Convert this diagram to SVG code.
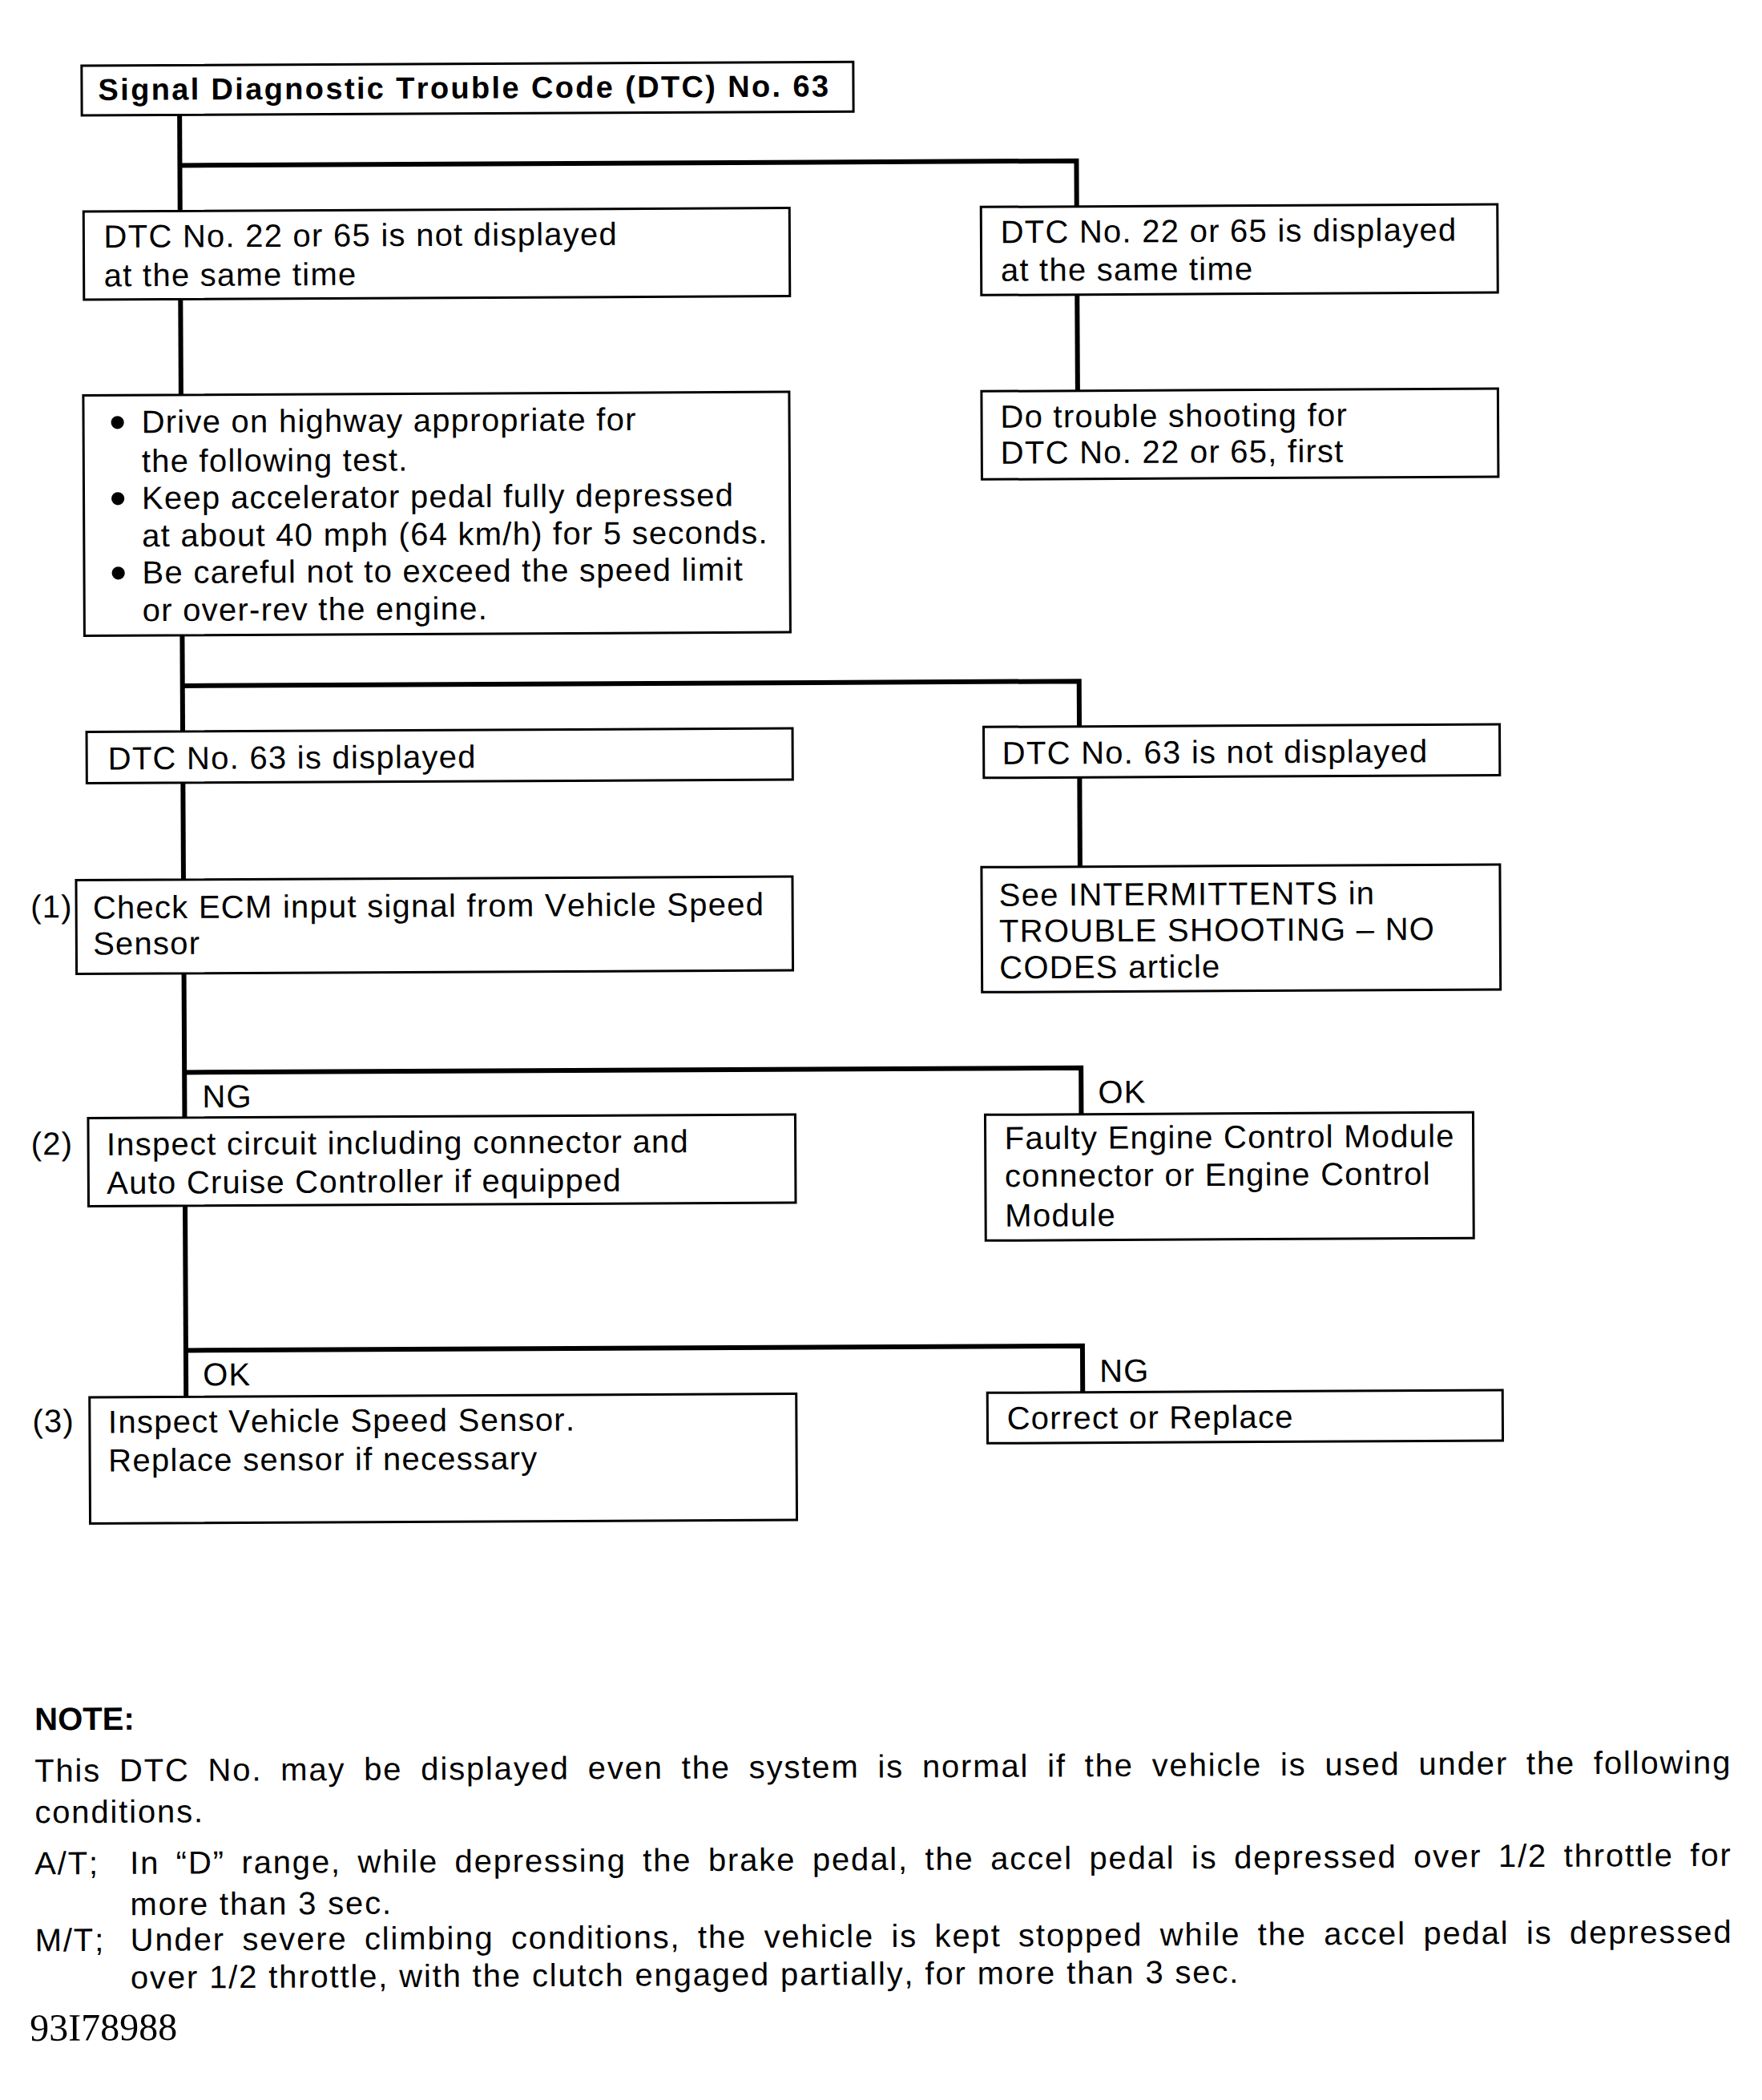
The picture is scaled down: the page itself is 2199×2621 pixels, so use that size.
<svg xmlns="http://www.w3.org/2000/svg" width="2199" height="2621" viewBox="0 0 2199 2621">
<style>
.box{fill:#fff;stroke:#000;stroke-width:3}
.t{font-family:"Liberation Sans",Arial,sans-serif;font-size:40px;letter-spacing:1.25px;fill:#000;font-kerning:none}
.b{font-family:"Liberation Sans",Arial,sans-serif;font-size:60px;fill:#000}
.title{font-family:"Liberation Sans",Arial,sans-serif;font-size:38px;font-weight:bold;letter-spacing:2.35px;fill:#000;font-kerning:none}
.note{font-family:"Liberation Sans",Arial,sans-serif;font-size:40px;letter-spacing:1.85px;fill:#000;font-kerning:none}
.head{font-family:"Liberation Sans",Arial,sans-serif;font-size:40px;font-weight:bold;fill:#000}
.serial{font-family:"Liberation Serif","Times New Roman",serif;font-size:48px;fill:#000}
.conn{fill:none;stroke:#000;stroke-width:6;stroke-linejoin:miter}
</style>
<rect x="0" y="0" width="2199" height="2621" fill="#fff"/>
<g transform="rotate(-0.29 1100 1300)">
<g id="connectors">
<path class="conn" d="M230,139 V259"/>
<path class="conn" d="M230,202 H1349 V259"/>
<path class="conn" d="M230,369 V488.5"/>
<path class="conn" d="M1349,369 V489"/>
<path class="conn" d="M230,788.5 V908.5"/>
<path class="conn" d="M230,851.5 H1349 V908"/>
<path class="conn" d="M230,972.5 V1093.5"/>
<path class="conn" d="M1349,971.5 V1083"/>
<path class="conn" d="M230,1210.5 V1390.5"/>
<path class="conn" d="M230,1334 H1349 V1392"/>
<path class="conn" d="M230,1500.5 V1739"/>
<path class="conn" d="M230,1681 H1349 V1739"/>
<text class="t" x="252" y="1378">NG</text>
<text class="t" x="1370" y="1378">OK</text>
<text class="t" x="251" y="1725">OK</text>
<text class="t" x="1370" y="1726">NG</text>
</g>
<g id="title">
<rect class="box" x="108" y="77" width="963" height="62"/>
<text class="title" x="128.5" y="120">Signal Diagnostic Trouble Code (DTC) No. 63</text>
</g>
<g id="n-not-displayed-22-65">
<rect class="box" x="109.5" y="259" width="881" height="110"/>
<text class="t"><tspan x="134.6" y="304">DTC No. 22 or 65 is not displayed</tspan><tspan x="134.6" y="352.5">at the same time</tspan></text>
</g>
<g id="n-displayed-22-65">
<rect class="box" x="1229.5" y="259" width="644.5" height="110"/>
<text class="t"><tspan x="1253.7" y="304">DTC No. 22 or 65 is displayed</tspan><tspan x="1253.7" y="351.5">at the same time</tspan></text>
</g>
<g id="n-drive-test">
<rect class="box" x="108" y="488.5" width="881" height="300"/>
<text class="b" x="140" y="542.5">•</text>
<text class="b" x="140" y="637.5">•</text>
<text class="b" x="140" y="730.5">•</text>
<text class="t"><tspan x="180.5" y="535.5">Drive on highway appropriate for</tspan><tspan x="180.5" y="584.5">the following test.</tspan><tspan x="180.5" y="630.5">Keep accelerator pedal fully depressed</tspan><tspan x="180.5" y="677.5">at about 40 mph (64 km/h) for 5 seconds.</tspan><tspan x="180.5" y="723.5">Be careful not to exceed the speed limit</tspan><tspan x="180.5" y="770.5">or over-rev the engine.</tspan></text>
</g>
<g id="n-trouble-22-65">
<rect class="box" x="1229" y="489" width="644.5" height="110"/>
<text class="t"><tspan x="1252.5" y="534.5">Do trouble shooting for</tspan><tspan x="1252.5" y="579.5">DTC No. 22 or 65, first</tspan></text>
</g>
<g id="n-63-displayed">
<rect class="box" x="110" y="908.5" width="881" height="64"/>
<text class="t" x="136.5" y="955.5">DTC No. 63 is displayed</text>
</g>
<g id="n-63-not-displayed">
<rect class="box" x="1229.5" y="908" width="644" height="63.5"/>
<text class="t" x="1252.6" y="954.5">DTC No. 63 is not displayed</text>
</g>
<g id="n-step1">
<rect class="box" x="96" y="1093.5" width="894" height="117"/>
<text class="t" x="39" y="1140">(1)</text>
<text class="t"><tspan x="116.7" y="1141.5">Check ECM input signal from Vehicle Speed</tspan><tspan x="116.7" y="1186.5">Sensor</tspan></text>
</g>
<g id="n-intermittents">
<rect class="box" x="1226" y="1083" width="647" height="156"/>
<text class="t"><tspan x="1247.7" y="1131.5">See INTERMITTENTS in</tspan><tspan x="1247.7" y="1176.5">TROUBLE SHOOTING – NO</tspan><tspan x="1247.7" y="1222">CODES article</tspan></text>
</g>
<g id="n-step2">
<rect class="box" x="109.5" y="1390.5" width="882.5" height="110"/>
<text class="t" x="38" y="1436">(2)</text>
<text class="t"><tspan x="132.3" y="1437">Inspect circuit including connector and</tspan><tspan x="132.3" y="1485">Auto Cruise Controller if equipped</tspan></text>
</g>
<g id="n-faulty-ecm">
<rect class="box" x="1229" y="1392" width="609" height="157"/>
<text class="t"><tspan x="1253.2" y="1435">Faulty Engine Control Module</tspan><tspan x="1253.2" y="1482">connector or Engine Control</tspan><tspan x="1253.2" y="1531.5">Module</tspan></text>
</g>
<g id="n-step3">
<rect class="box" x="109.5" y="1739" width="882" height="157.5"/>
<text class="t" x="38" y="1782">(3)</text>
<text class="t"><tspan x="132.6" y="1783.5">Inspect Vehicle Speed Sensor.</tspan><tspan x="132.6" y="1831.5">Replace sensor if necessary</tspan></text>
</g>
<g id="n-correct-replace">
<rect class="box" x="1230" y="1739" width="643" height="63"/>
<text class="t" x="1254.2" y="1784.5">Correct or Replace</text>
</g>
<g id="note">
<text class="head" x="39" y="2154">NOTE:</text>
<text class="note" x="38.5" y="2218.5" style="word-spacing:9.9px">This DTC No. may be displayed even the system is normal if the vehicle is used under the following</text>
<text class="note" x="38.5" y="2270">conditions.</text>
<text class="note" x="38" y="2334">A/T;</text>
<text class="note" x="157" y="2334" style="word-spacing:7.6px">In “D” range, while depressing the brake pedal, the accel pedal is depressed over 1/2 throttle for</text>
<text class="note" x="157" y="2385.5">more than 3 sec.</text>
<text class="note" x="38" y="2430">M/T;</text>
<text class="note" x="157" y="2430" style="word-spacing:8.5px">Under severe climbing conditions, the vehicle is kept stopped while the accel pedal is depressed</text>
<text class="note" x="157" y="2477">over 1/2 throttle, with the clutch engaged partially, for more than 3 sec.</text>
<text class="serial" x="31" y="2541.5">93I78988</text>
</g>
</g>
</svg>
